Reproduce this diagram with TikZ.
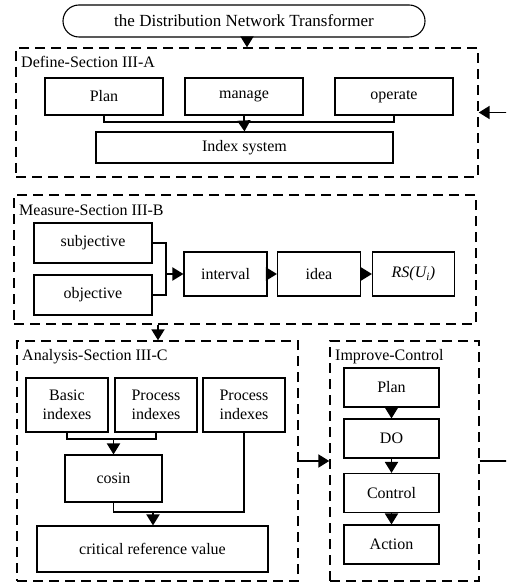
\documentclass[tikz,border=0pt]{standalone}
\usepackage{fontspec}
\setmainfont{Liberation Serif}
\usetikzlibrary{arrows.meta}

\begin{document}
\begin{tikzpicture}[
    x=1pt, y=-1pt,
    every node/.style={font=\fontsize{16}{19}\selectfont, inner sep=0pt},
    box/.style={draw, line width=1.1pt, align=center},
    group/.style={draw, line width=1.4pt, dash pattern=on 10pt off 6pt},
    tag/.style={anchor=west},
    link/.style={line width=1.9pt},
    arr/.style={link, -{Triangle[width=13pt,length=11pt]}}
]
    \clip (0,0) rectangle (506,585);

    % top
    \node[draw, line width=1.1pt, rounded corners=16pt, minimum width=362pt, minimum height=32pt,
        font=\fontsize{17}{20}\selectfont] (dnt) at (244,21) {the Distribution Network Transformer};

    % Define
    \node[group, minimum width=462pt, minimum height=129pt] (defbox) at (247,112.5) {};
    \node[tag] (deftag) at (21,62) {Define-Section III-A};
    \node[box, minimum width=118pt, minimum height=37pt] (plan) at (104,96.5) {Plan};
    \node[box, minimum width=118pt, minimum height=37pt] (manage) at (244,96.5) {manage};
    \node[box, minimum width=118pt, minimum height=37pt] (operate) at (394,96.5) {operate};
    \node[box, minimum width=297pt, minimum height=31pt] (index) at (244.5,147.5) {Index system};
    \coordinate (defjoin) at (244,122);

    % Measure
    \node[group, minimum width=462pt, minimum height=129pt] (meabox) at (245,259.5) {};
    \node[tag] (meatag) at (19,210) {Measure-Section III-B};
    \node[box, minimum width=118pt, minimum height=40pt] (subj) at (93,243) {subjective};
    \node[box, minimum width=118pt, minimum height=40pt] (obj) at (93,295) {objective};
    \node[box, minimum width=83pt, minimum height=44pt] (interval) at (225.5,274) {interval};
    \node[box, minimum width=83pt, minimum height=44pt] (idea) at (319,274) {idea};
    \node[box, minimum width=82pt, minimum height=44pt] (rs) at (413.5,274) {\textit{RS(U\textsubscript{i})}};
    \coordinate (meajoin) at (166,274);

    % Analysis
    \node[group, minimum width=281pt, minimum height=240pt] (anabox) at (157.5,461) {};
    \node[tag] (anatag) at (22,357) {Analysis-Section III-C};
    \node[box, minimum width=82pt, minimum height=54pt] (basic) at (67,405) {Basic\\indexes};
    \node[box, minimum width=82pt, minimum height=54pt] (procA) at (156,405) {Process\\indexes};
    \node[box, minimum width=82pt, minimum height=54pt] (procB) at (244,405) {Process\\indexes};
    \node[box, minimum width=97pt, minimum height=47pt] (cosin) at (113.5,478.5) {cosin};
    \node[box, minimum width=231pt, minimum height=46pt] (crit) at (152.5,549) {critical reference value};
    \coordinate (anajoinA) at (113.5,439);
    \coordinate (anajoinB) at (153,512);

    % Improve-Control
    \node[group, minimum width=149pt, minimum height=240pt] (impbox) at (404.5,461) {};
    \node[tag] (imptag) at (335,357) {Improve-Control};
    \node[box, minimum width=95pt, minimum height=39pt] (pdca1) at (391.5,387.5) {Plan};
    \node[box, minimum width=95pt, minimum height=39pt] (pdca2) at (391.5,438.5) {DO};
    \node[box, minimum width=95pt, minimum height=39pt] (pdca3) at (391.5,493) {Control};
    \node[box, minimum width=95pt, minimum height=39pt] (pdca4) at (391.5,544.5) {Action};

    % connectors
    \draw[arr] (dnt.south -| defbox.north) -- (defbox.north);
    \draw[link] (plan.south) |- (defjoin) -| (operate.south);
    \draw[link] (manage.south) -- (defjoin);
    \draw[arr] (defjoin) -- (index.north);

    \draw[link] (subj.east) -| (meajoin) |- (obj.east);
    \draw[arr] (meajoin) -- (interval.west);
    \draw[arr] (interval) -- (idea);
    \draw[arr] (idea) -- (rs);
    \draw[arr] (meabox.south -| 158,0) -- (anabox.north -| 158,0);

    \draw[link] (basic.south) |- (anajoinA) -| (procA.south);
    \draw[arr] (anajoinA) -- (cosin.north);
    \draw[link] (cosin.south) |- (anajoinB) -| (procB.south);
    \draw[arr] (anajoinB) -- (crit.north -| anajoinB);

    \draw[arr] (anabox.east) -- (impbox.west);
    \draw[arr] (pdca1) -- (pdca2);
    \draw[arr] (pdca2) -- (pdca3);
    \draw[arr] (pdca3) -- (pdca4);
    \draw[arr] (impbox.east) -- ++(40,0) |- (defbox.east);
\end{tikzpicture}
\end{document}
